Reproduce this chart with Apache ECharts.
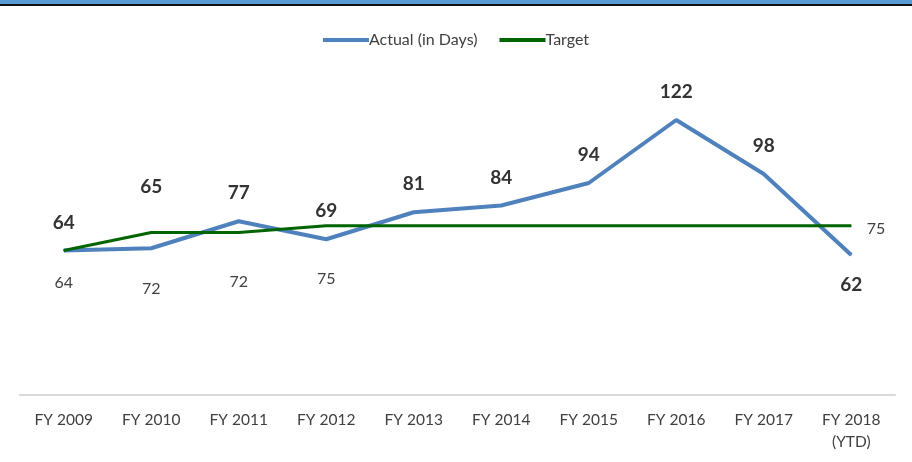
<!DOCTYPE html>
<html>
<head>
<meta charset="utf-8">
<script src="https://cdn.jsdelivr.net/npm/echarts@6/dist/echarts.min.js"></script>
<style>
  html, body { margin: 0; padding: 0; background: #fff; }
  #chart { width: 912px; height: 462px; }
</style>
</head>
<body>
<div id="chart"></div>
<script>
  var years = ["FY 2009", "FY 2010", "FY 2011", "FY 2012", "FY 2013", "FY 2014", "FY 2015", "FY 2016", "FY 2017", "FY 2018\n(YTD)"];
  var actualDays = [64, 65, 77, 69, 81, 84, 94, 122, 98, 62];
  var targetDays = [64, 72, 72, 75, 75, 75, 75, 75, 75, 75];

  var textColor = "#404040";
  var blue = "#4F81BD";
  var green = "#006400";
  var font = "Lato, 'Noto Sans', sans-serif";

  // label placement, tuned by eye against the reference
  var actualLabelDist = { 1: 51, 9: 20 };
  var targetLabelDist = { 0: 24, 1: 48, 2: 41, 3: 45 };

  var actualData = actualDays.map(function (v, i) {
    return {
      value: v,
      label: {
        position: i === 9 ? "bottom" : "top",
        distance: actualLabelDist[i] || 18
      }
    };
  });

  var targetData = targetDays.map(function (v, i) {
    if (i === 9) {
      return { value: v, label: { show: true, position: "right", distance: 15, offset: [0, 3] } };
    }
    if (targetLabelDist[i] !== undefined) {
      return { value: v, label: { show: true, position: "bottom", distance: targetLabelDist[i] } };
    }
    return { value: v };
  });

  var myChart = echarts.init(document.getElementById("chart"), null, { renderer: "canvas" });

  var option = {
    animation: false,
    textStyle: { fontFamily: font },
    graphic: [
      { type: "rect", left: 0, top: 0, shape: { width: 912, height: 4 }, style: { fill: "#5B9BD5" } },
      { type: "rect", left: 0, top: 4, shape: { width: 912, height: 2 }, style: { fill: "#111" } }
    ],
    legend: {
      top: 27,
      left: "center",
      itemWidth: 46,
      itemHeight: 4,
      itemGap: 22,
      textStyle: { color: textColor, fontSize: 16, fontFamily: font, padding: [0, 0, 0, -5] },
      data: [
        { name: "Actual (in Days)", icon: "rect", itemStyle: { color: blue } },
        { name: "Target", icon: "rect", itemStyle: { color: green } }
      ]
    },
    grid: { left: 20, right: 17, top: 79.5, bottom: 67.5 },
    xAxis: {
      type: "category",
      data: years,
      boundaryGap: true,
      axisLine: { lineStyle: { color: "#d9d9d9", width: 2 } },
      axisTick: { show: false },
      axisLabel: { color: textColor, fontSize: 15.5, margin: 14, lineHeight: 22, fontFamily: font }
    },
    yAxis: {
      type: "value",
      min: 0,
      max: 140,
      show: false,
      splitLine: { show: false }
    },
    series: [
      {
        name: "Actual (in Days)",
        type: "line",
        symbol: "circle",
        symbolSize: 1,
        showSymbol: true,
        data: actualData,
        lineStyle: { color: blue, width: 4 },
        itemStyle: { color: blue },
        label: {
          show: true,
          color: "#333",
          fontSize: 19,
          fontWeight: "bold",
          fontFamily: font
        },
        z: 2
      },
      {
        name: "Target",
        type: "line",
        symbol: "circle",
        symbolSize: 1,
        showSymbol: true,
        data: targetData,
        lineStyle: { color: green, width: 3 },
        itemStyle: { color: green },
        label: {
          show: false,
          color: textColor,
          fontSize: 16,
          fontFamily: font
        },
        z: 3
      }
    ]
  };

  myChart.setOption(option);
</script>
</body>
</html>
